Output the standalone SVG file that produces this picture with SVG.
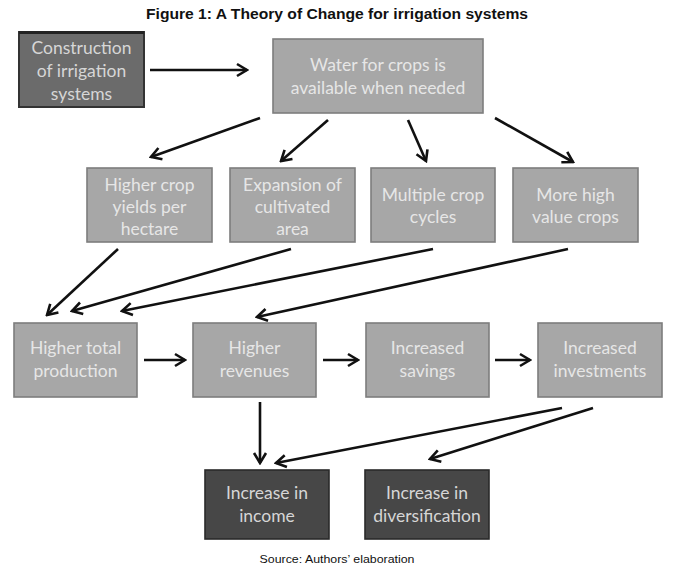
<svg xmlns="http://www.w3.org/2000/svg" width="675" height="575" viewBox="0 0 675 575">
<defs>
<marker id="arr" markerUnits="userSpaceOnUse" viewBox="-13 -8 15 16" markerWidth="15" markerHeight="16" refX="0" refY="0" orient="auto">
<path d="M-10,-6 L0,0 L-10,6" fill="none" stroke="#111" stroke-width="2.6" stroke-linejoin="miter"/>
</marker>
</defs>
<style>
.t{font-family:Lato,"Open Sans","Liberation Sans",sans-serif;font-size:17.5px;text-anchor:middle}
.lt{fill:#e6e6e6}
.dkt{fill:#d6d6d6}
.light{fill:#a7a7a7;stroke:#7d7d7d;stroke-width:1.6}
.mid{fill:#6b6b6b;stroke:#333;stroke-width:2}
.dark{fill:#474747;stroke:#2a2a2a;stroke-width:1.6}
.c line{stroke:#111;stroke-width:2.6;marker-end:url(#arr)}
.title{font-family:"Liberation Sans",Arial,sans-serif;font-weight:bold;font-size:14px;text-anchor:middle;fill:#111}
.src{font-family:"Liberation Sans",Arial,sans-serif;font-size:11.5px;text-anchor:middle;fill:#111}
</style>
<rect width="675" height="575" fill="#fff"/>
<text class="title" x="337" y="19" textLength="382" lengthAdjust="spacingAndGlyphs">Figure 1: A Theory of Change for irrigation systems</text>

<g id="construction">
<rect class="mid" x="19" y="32" width="125" height="75"/>
<line x1="19" y1="32.5" x2="144" y2="32.5" stroke="#222" stroke-width="3"/>
<text class="t dkt" x="81.5" y="54">Construction</text>
<text class="t dkt" x="81.5" y="77">of irrigation</text>
<text class="t dkt" x="81.5" y="100">systems</text>
</g>
<g id="water">
<rect class="light" x="273" y="39" width="210" height="74"/>
<text class="t lt" x="378" y="71">Water for crops is</text>
<text class="t lt" x="378" y="94">available when needed</text>
</g>
<g id="yields">
<rect class="light" x="87" y="168" width="125" height="74"/>
<text class="t lt" x="149.5" y="191">Higher crop</text>
<text class="t lt" x="149.5" y="213">yields per</text>
<text class="t lt" x="149.5" y="235">hectare</text>
</g>
<g id="expansion">
<rect class="light" x="230" y="168" width="125" height="74"/>
<text class="t lt" x="292.5" y="191">Expansion of</text>
<text class="t lt" x="292.5" y="213">cultivated</text>
<text class="t lt" x="292.5" y="235">area</text>
</g>
<g id="cycles">
<rect class="light" x="371" y="168" width="124" height="74"/>
<text class="t lt" x="433" y="201">Multiple crop</text>
<text class="t lt" x="433" y="223">cycles</text>
</g>
<g id="highvalue">
<rect class="light" x="513" y="168" width="125" height="74"/>
<text class="t lt" x="575.5" y="201">More high</text>
<text class="t lt" x="575.5" y="223">value crops</text>
</g>
<g id="production">
<rect class="light" x="14" y="323" width="123" height="74"/>
<text class="t lt" x="75.5" y="354">Higher total</text>
<text class="t lt" x="75.5" y="377">production</text>
</g>
<g id="revenues">
<rect class="light" x="193" y="323" width="123" height="74"/>
<text class="t lt" x="254.5" y="354">Higher</text>
<text class="t lt" x="254.5" y="377">revenues</text>
</g>
<g id="savings">
<rect class="light" x="366" y="323" width="123" height="74"/>
<text class="t lt" x="427.5" y="354">Increased</text>
<text class="t lt" x="427.5" y="377">savings</text>
</g>
<g id="investments">
<rect class="light" x="538" y="323" width="124" height="74"/>
<text class="t lt" x="600" y="354">Increased</text>
<text class="t lt" x="600" y="377">investments</text>
</g>
<g id="income">
<rect class="dark" x="205" y="470" width="124" height="69"/>
<text class="t dkt" x="267" y="499">Increase in</text>
<text class="t dkt" x="267" y="522">income</text>
</g>
<g id="diversification">
<rect class="dark" x="365" y="470" width="124" height="69"/>
<text class="t dkt" x="427" y="499">Increase in</text>
<text class="t dkt" x="427" y="522">diversification</text>
</g>

<g id="connectors" class="c">
<line x1="150" y1="70" x2="247" y2="70"/>
<line x1="260" y1="118" x2="151" y2="157"/>
<line x1="328" y1="120" x2="281" y2="161"/>
<line x1="408" y1="120" x2="426" y2="161"/>
<line x1="495" y1="118" x2="573" y2="162"/>
<line x1="118" y1="249" x2="47" y2="315"/>
<line x1="291" y1="249" x2="72" y2="311"/>
<line x1="433" y1="249" x2="122" y2="311"/>
<line x1="568" y1="249" x2="257" y2="317"/>
<line x1="144" y1="360" x2="185" y2="360"/>
<line x1="323" y1="360" x2="358" y2="360"/>
<line x1="495" y1="360" x2="530" y2="360"/>
<line x1="260" y1="402" x2="260" y2="463"/>
<line x1="562" y1="408" x2="276" y2="463"/>
<line x1="593" y1="408" x2="430" y2="459"/>
</g>

<text class="src" x="337" y="563" textLength="155" lengthAdjust="spacingAndGlyphs">Source: Authors’ elaboration</text>
</svg>
